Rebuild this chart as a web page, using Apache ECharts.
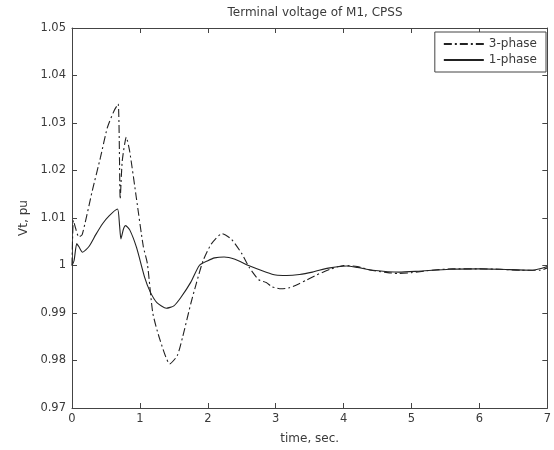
<!DOCTYPE html>
<html>
<head>
<meta charset="utf-8">
<script src="https://cdn.jsdelivr.net/npm/echarts@6/dist/echarts.min.js"></script>
<style>html,body{margin:0;padding:0;background:#fff;}#c{width:554px;height:450px;}</style>
</head>
<body>
<div id="c"></div>
<script>
const titleText = 'Terminal voltage of M1, CPSS';
const xName = 'time, sec.';
const yName = 'Vt, pu';
const seriesNames = ['3-phase', '1-phase'];

const t3 = [0, 0.02, 0.05, 0.1, 0.15, 0.3, 0.42, 0.52, 0.62, 0.68, 0.71, 0.74, 0.8, 0.85, 0.95, 1.05, 1.11, 1.19, 1.29, 1.44, 1.55, 1.63, 1.75, 1.83, 1.93, 2.05, 2.21, 2.35, 2.5, 2.61, 2.75, 2.86, 2.95, 3.08, 3.2, 3.35, 3.45, 3.6, 3.8, 4.0, 4.2, 4.4, 4.6, 4.8, 5.0, 5.3, 5.6, 6.0, 6.3, 6.6, 6.9, 7.0];
const v3 = [1.0, 1.0095, 1.008, 1.006, 1.0065, 1.0158, 1.0228, 1.029, 1.0326, 1.034, 1.014, 1.022, 1.027, 1.024, 1.014, 1.004, 1.0004, 0.990, 0.9846, 0.9793, 0.981, 0.985, 0.992, 0.9962, 1.001, 1.0045, 1.0067, 1.0055, 1.0025, 0.9996, 0.997, 0.9964, 0.9955, 0.9951, 0.9953, 0.9962, 0.9969, 0.998, 0.9992, 1.0, 0.9998, 0.999, 0.9986, 0.9983, 0.9985, 0.999, 0.9993, 0.9993, 0.9992, 0.999, 0.999, 0.9995];

const t1 = [0, 0.03, 0.07, 0.1, 0.155, 0.25, 0.35, 0.45, 0.55, 0.67, 0.70, 0.72, 0.76, 0.79, 0.85, 0.95, 1.07, 1.15, 1.25, 1.39, 1.5, 1.6, 1.75, 1.875, 2.0, 2.1, 2.24, 2.4, 2.6, 2.86, 3.0, 3.16, 3.35, 3.54, 3.64, 3.8, 4.04, 4.2, 4.43, 4.82, 5.1, 5.56, 6.0, 6.3, 6.78, 7.0];
const v1 = [1.0, 1.001, 1.0046, 1.004, 1.0028, 1.004, 1.0065, 1.0088, 1.0105, 1.0119, 1.0085, 1.0056, 1.0078, 1.0084, 1.0075, 1.0038, 0.9975, 0.9945, 0.9922, 0.991, 0.9915, 0.9932, 0.9965, 1.0, 1.001, 1.0016, 1.0018, 1.0013, 1.0, 0.9986, 0.998, 0.9979, 0.9981, 0.9986, 0.999, 0.9995, 0.9999, 0.9996, 0.999, 0.9986, 0.9988, 0.9992, 0.9993, 0.9992, 0.999, 0.9998];

const xMin = 0, xMax = 7, xStep = 1;
const yMin = 0.97, yMax = 1.05, yStep = 0.01;

const pair = (ts, vs) => ts.map((t, i) => [t, vs[i]]);
const font = 'DejaVu Sans, Verdana, sans-serif';
const axisCol = '#444';
const txtCol = '#3a3a3a';

function tick() {
  return {show: true, inside: true, length: 5, lineStyle: {color: axisCol, width: 1}};
}
function line() {
  return {show: true, onZero: false, lineStyle: {color: axisCol, width: 1}};
}

const chart = echarts.init(document.getElementById('c'), null, {renderer: 'canvas'});
chart.setOption({
  animation: false,
  backgroundColor: '#fff',
  title: {
    text: titleText, left: 310, top: 2, textAlign: 'center',
    textStyle: {fontFamily: font, fontSize: 12, fontWeight: 'normal', color: txtCol}
  },
  grid: {left: 72, right: 6, top: 28, bottom: 41},
  legend: {
    orient: 'vertical', right: 8, top: 32,
    data: seriesNames,
    itemWidth: 40, itemHeight: 12, itemGap: 4,
    padding: [6, 9, 6, 8],
    borderColor: '#444', borderWidth: 1,
    backgroundColor: '#fff',
    itemStyle: {opacity: 0},
    textStyle: {fontFamily: font, fontSize: 12, color: txtCol}
  },
  xAxis: [
    {
      type: 'value', min: xMin, max: xMax, interval: xStep, position: 'bottom',
      axisLine: line(), axisTick: tick(), splitLine: {show: false},
      name: xName, nameLocation: 'middle', nameGap: 25,
      nameTextStyle: {fontFamily: font, fontSize: 12, color: txtCol},
      axisLabel: {fontFamily: font, fontSize: 11.5, color: txtCol, margin: 5}
    },
    {
      type: 'value', min: xMin, max: xMax, interval: xStep, position: 'top',
      axisLine: line(), axisTick: tick(), splitLine: {show: false},
      axisLabel: {show: false}
    }
  ],
  yAxis: [
    {
      type: 'value', min: yMin, max: yMax, interval: yStep, position: 'left',
      axisLine: line(), axisTick: tick(), splitLine: {show: false},
      name: yName, nameLocation: 'middle', nameGap: 30,
      nameTextStyle: {fontFamily: font, fontSize: 12, color: txtCol},
      axisLabel: {fontFamily: font, fontSize: 11.5, color: txtCol, margin: 6,
        formatter: v => String(+v.toFixed(2))}
    },
    {
      type: 'value', min: yMin, max: yMax, interval: yStep, position: 'right',
      axisLine: line(), axisTick: tick(), splitLine: {show: false},
      axisLabel: {show: false}
    }
  ],
  series: [
    {
      name: seriesNames[0], type: 'line', data: pair(t3, v3), symbol: 'none',
      smooth: 0.2,
      lineStyle: {color: '#222', width: 1.1, type: [8, 3, 2, 3]},
      itemStyle: {color: '#222'}
    },
    {
      name: seriesNames[1], type: 'line', data: pair(t1, v1), symbol: 'none',
      smooth: 0.2,
      lineStyle: {color: '#222', width: 1.1, type: 'solid'},
      itemStyle: {color: '#222'}
    }
  ]
});
</script>
</body>
</html>
